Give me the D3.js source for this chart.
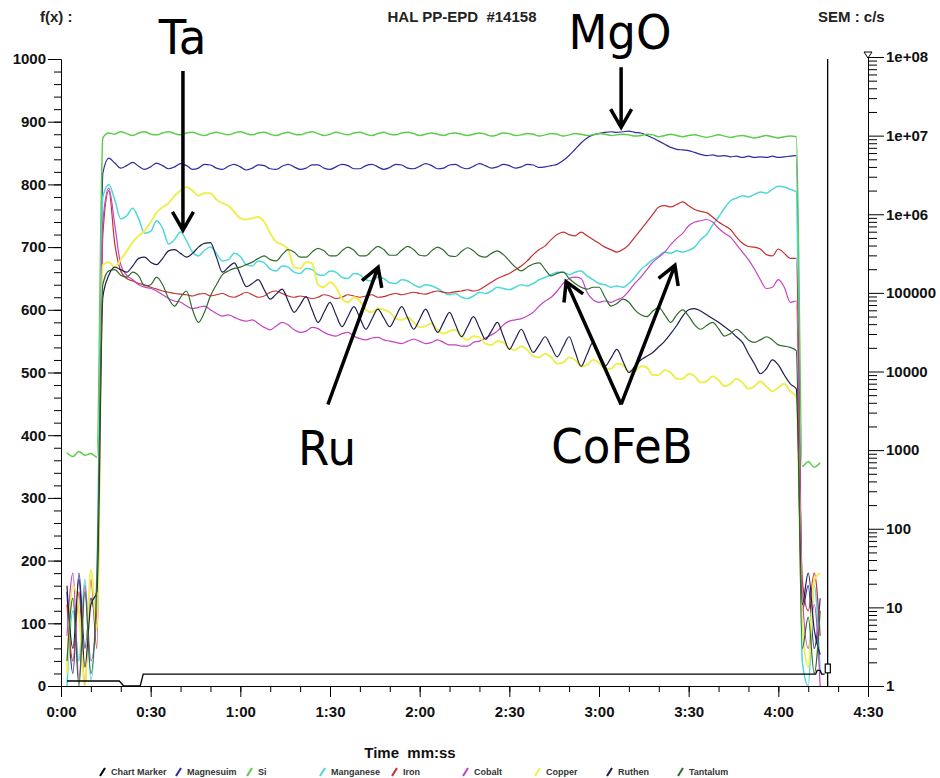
<!DOCTYPE html>
<html>
<head>
<meta charset="utf-8">
<script src="https://cdn.jsdelivr.net/npm/d3@7"></script>
<style>
  html, body { margin: 0; padding: 0; background: #fff; }
  svg { display: block; font-family: "Liberation Sans", Arial, sans-serif; }
</style>
</head>
<body>
<svg id="chart" width="940" height="778"></svg>
<script>
// ---------------------------------------------------------------------------
// Depth profile HAL PP-EPD #14158 : intensity vs sputter time (mm:ss)
// ---------------------------------------------------------------------------

// Sample clock in seconds, shared by every element trace
const TIME = d3.range(2, 256, 2);

const SI = [
  372, 366, 374, 368, 371, 365,
  874, 882, 880, 884, 881, 878, 882, 884, 880, 879,
  882, 884, 881, 879, 882, 883, 880, 878, 881, 883,
  881, 879, 882, 884, 881, 879, 882, 883, 880, 878,
  881, 883, 880, 879, 882, 884, 881, 878, 880, 883,
  881, 879, 882, 883, 880, 878, 881, 883, 880, 879,
  882, 883, 881, 878, 880, 882, 880, 878, 881, 882,
  880, 878, 880, 882, 880, 877, 879, 882, 881, 878,
  879, 881, 880, 877, 879, 881, 880, 877, 879, 881,
  880, 878, 879, 881, 880, 878, 879, 880, 879, 877,
  878, 880, 879, 876, 878, 880, 878, 876, 878, 879,
  877, 875, 877, 879, 877, 875, 877, 878, 876, 874,
  876, 878, 876, 874, 876, 877, 876,
  350, 358, 349, 356
];

const MAGNESIUM = [
  150, 20, 180, 60, 140, 100,
  818, 842, 834, 826, 830, 835, 829, 824, 828, 834,
  830, 825, 828, 833, 830, 824, 826, 832, 831, 826,
  824, 829, 832, 828, 823, 826, 831, 830, 825, 824,
  829, 832, 828, 824, 826, 831, 831, 826, 824, 828,
  832, 830, 825, 825, 830, 832, 828, 824, 827, 832,
  831, 826, 825, 829, 833, 830, 825, 826, 831, 832,
  827, 825, 829, 833, 830, 826, 828, 832, 830, 826,
  828, 832, 831, 827, 828, 830, 832, 838, 846, 856,
  866, 874, 879, 881, 883, 884, 883, 884, 885, 883,
  882, 878, 874, 869, 864, 859, 856, 855, 854, 851,
  848, 846, 847, 845, 846, 844, 845, 843, 845, 843,
  844, 843, 845, 843, 844, 845, 846,
  120, 160, 60, 140
];

const MANGANESE = [
  0, 120, 40, 170, 10, 180,
  780, 800, 775, 745, 750, 762, 745, 722, 725, 742,
  730, 705, 712, 724, 710, 692, 686, 695, 700, 690,
  678, 680, 690, 685, 672, 670, 678, 675, 665, 662,
  670, 668, 660, 658, 666, 664, 656, 655, 662, 660,
  652, 650, 658, 656, 648, 646, 652, 650, 643, 642,
  648, 646, 640, 636, 640, 638, 634, 628, 624, 626,
  620, 618, 622, 628, 626, 630, 636, 634, 632, 636,
  640, 638, 642, 648, 652, 656, 660, 660, 656, 660,
  662, 654, 648, 642, 640, 636, 638, 636, 642, 652,
  664, 672, 680, 686, 692, 690, 694, 692, 695, 700,
  712, 720, 735, 748, 762, 774, 778, 782, 780, 784,
  788, 786, 792, 797, 796, 792, 788,
  40, 0, 160, 20
];

const IRON = [
  130, 40, 150, 0, 170, 60,
  720, 790, 705, 662, 650, 646, 642, 640, 636, 633,
  630, 628, 626, 625, 624, 622, 625, 626, 622, 624,
  626, 622, 620, 624, 628, 624, 620, 622, 628, 630,
  626, 622, 620, 622, 620, 618, 620, 624, 622, 618,
  620, 624, 622, 620, 622, 624, 620, 621, 624, 626,
  624, 626, 628, 626, 625, 628, 630, 628, 627, 629,
  630, 632, 630, 632, 638, 644, 650, 654, 658, 664,
  670, 678, 688, 696, 702, 712, 720, 724, 720, 718,
  724, 718, 712, 706, 700, 696, 692, 696, 704, 716,
  728, 740, 752, 764, 766, 764, 768, 772, 766, 760,
  757, 755, 748, 740, 734, 728, 716, 706, 701, 700,
  697, 688, 686, 697, 690, 682, 682,
  170, 120, 180, 80
];

const COBALT = [
  80, 180, 10, 160, 40, 120,
  740, 794, 735, 672, 655, 648, 640, 636, 634, 630,
  624, 618, 614, 612, 606, 602, 604, 606, 600, 594,
  590, 592, 588, 584, 582, 584, 578, 572, 568, 574,
  580, 576, 568, 564, 566, 572, 570, 564, 560, 558,
  562, 564, 558, 554, 552, 555, 556, 552, 550, 548,
  546, 550, 553, 550, 546, 548, 552, 548, 544, 544,
  542, 542, 548, 550, 555, 560, 566, 576, 582, 584,
  586, 590, 596, 606, 614, 620, 630, 642, 650, 652,
  650, 628, 616, 612, 614, 612, 616, 620, 630, 642,
  652, 664, 676, 684, 692, 704, 714, 722, 734, 740,
  742, 744, 740, 730, 722, 716, 704, 692, 680, 665,
  648, 634, 636, 648, 636, 612, 614,
  150, 60, 130, 0
];

const COPPER = [
  20, 160, 120, 0, 185, 90,
  672, 676, 668, 680, 694, 708, 718, 726, 740, 755,
  764, 770, 782, 790, 796, 790, 782, 786, 786, 776,
  770, 766, 756, 746, 744, 746, 748, 740, 722, 708,
  704, 696, 668, 666, 676, 674, 640, 636, 644, 636,
  618, 612, 620, 614, 600, 596, 602, 600, 596, 586,
  584, 588, 580, 572, 574, 578, 568, 562, 566, 568,
  558, 552, 558, 556, 546, 544, 550, 548, 538, 536,
  542, 536, 526, 524, 530, 524, 514, 516, 524, 520,
  510, 512, 520, 516, 506, 506, 514, 512, 502, 502,
  510, 508, 496, 496, 504, 500, 490, 490, 498, 494,
  484, 486, 494, 488, 478, 482, 490, 484, 474, 478,
  486, 478, 470, 476, 482, 470, 462,
  100, 30, 170, 180
];

const RUTHEN = [
  160, 60, 170, 30, 130, 150,
  620, 655, 668, 664, 660, 670, 682, 684, 676, 672,
  682, 694, 696, 690, 684, 690, 700, 706, 707, 684,
  660, 668, 675, 656, 637, 642, 648, 632, 617, 625,
  633, 614, 596, 608, 621, 600, 580, 596, 612, 592,
  573, 589, 605, 587, 569, 585, 601, 587, 573, 589,
  605, 587, 569, 585, 601, 582, 564, 580, 596, 576,
  557, 573, 589, 571, 553, 566, 580, 558, 537, 553,
  569, 550, 532, 544, 557, 541, 525, 541, 557, 533,
  510, 529, 548, 529, 510, 523, 537, 518, 500, 510,
  520, 526, 532, 541, 550, 562, 575, 590, 600, 602,
  598, 592, 586, 580, 573, 566, 557, 548, 530, 514,
  498, 506, 520, 512, 496, 482, 474,
  130, 180, 90, 50
];

const TANTALUM = [
  40, 140, 0, 150, 20, 170,
  640, 662, 664, 655, 652, 660, 654, 638, 640, 652,
  640, 618, 606, 620, 630, 600, 580, 596, 622, 640,
  656, 662, 666, 668, 672, 676, 682, 686, 680, 678,
  688, 696, 692, 684, 684, 692, 698, 694, 686, 686,
  694, 700, 695, 686, 686, 694, 701, 696, 687, 687,
  695, 701, 696, 687, 686, 694, 700, 695, 686, 685,
  693, 699, 694, 686, 684, 690, 694, 688, 678, 668,
  662, 668, 673, 675, 664, 654, 658, 660, 650, 642,
  636, 633, 636, 636, 620, 606, 610, 617, 612, 600,
  592, 589, 598, 604, 592, 580, 592, 600, 590, 576,
  569, 575, 580, 570, 558, 562, 569, 562, 552, 548,
  552, 557, 552, 544, 542, 540, 535,
  60, 110, 20, 120
];

// Chart marker trace (time s, value) and its cursor
const MARKER_T = [2, 19.5, 21, 26.5, 27.5, 252.5, 253, 254, 254.5, 255.5];
const MARKER_V = [8, 8, 0, 0, 19, 19, 25, 25, 19, 19];
const MARKER_CURSOR_T = 256.5;
const MARKER_BOX = { t0: 255.7, t1: 257.4, v0: 21, v1: 35 };

// Axis ticks
const Y_MAJOR = d3.range(0, 1001, 100);
const Y_MINOR = d3.range(0, 1001, 20);
const X_MAJOR = d3.range(0, 271, 30);
const X_MINOR = d3.range(0, 271, 10);
const SEM_MAJOR = [1, 10, 100, 1000, 10000, 100000, 1e6, 1e7, 1e8];
const SEM_LABELS = ["1", "10", "100", "1000", "10000", "100000", "1e+06", "1e+07", "1e+08"];

// Layer annotations (time s, value)
const LABELS = [
  { text: "Ta",    t: 40.7,  v: 1008 },
  { text: "MgO",   t: 187.0, v: 1016 },
  { text: "Ru",    t: 89.0,  v: 353 },
  { text: "CoFeB", t: 187.7, v: 356 }
];
const ARROWS = [
  { from: [40.8, 981],  to: [40.8, 727] },
  { from: [187.4, 987], to: [187.4, 891] },
  { from: [89.3, 449],  to: [106.1, 668] },
  { from: [187.4, 449], to: [169.0, 645] },
  { from: [187.4, 449], to: [205.4, 671] }
];

// Trace styling, in legend order
const TRACES = [
  { name: "Magnesuim", values: MAGNESIUM, color: "#2d2d9e", width: 1.2 },
  { name: "Si",        values: SI,        color: "#5ccc4a", width: 1.5 },
  { name: "Manganese", values: MANGANESE, color: "#4fd8d8", width: 1.5 },
  { name: "Iron",      values: IRON,      color: "#c43030", width: 1.2 },
  { name: "Cobalt",    values: COBALT,    color: "#c444c4", width: 1.2 },
  { name: "Copper",    values: COPPER,    color: "#eeee55", width: 2.0 },
  { name: "Ruthen",    values: RUTHEN,    color: "#1e1e50", width: 1.2 },
  { name: "Tantalum",  values: TANTALUM,  color: "#2e6b2e", width: 1.2 }
];

const LEGEND = [
  { name: "Chart Marker", color: "#000000", x: 100 },
  { name: "Magnesuim",    color: "#2d2d9e", x: 176 },
  { name: "Si",           color: "#5ccc4a", x: 247 },
  { name: "Manganese",    color: "#4fd8d8", x: 320 },
  { name: "Iron",         color: "#c43030", x: 392 },
  { name: "Cobalt",       color: "#c444c4", x: 463 },
  { name: "Copper",       color: "#eeee55", x: 535 },
  { name: "Ruthen",       color: "#1e1e50", x: 607 },
  { name: "Tantalum",     color: "#2e6b2e", x: 678 }
];

// ---------------------------------------------------------------------------
const svg = d3.select("#chart");
const FONT = "'Liberation Sans', Arial, sans-serif";

const x = d3.scaleLinear().domain([0, 270]).range([61, 868]);
const y = d3.scaleLinear().domain([0, 1000]).range([686, 59]);
const ySem = d3.scaleLog().domain([1, 1e8]).range([686, 57]);

const fmtTime = s => `${Math.floor(s / 60)}:${String(s % 60).padStart(2, "0")}`;

// Traces
const line = d3.line()
  .x((d, i) => x(TIME[i]))
  .y(d => y(d))
  .curve(d3.curveMonotoneX);

const traceG = svg.append("g");
TRACES.forEach(tr => {
  traceG.append("path")
    .datum(tr.values)
    .attr("fill", "none")
    .attr("stroke", tr.color)
    .attr("stroke-width", tr.width)
    .attr("stroke-linejoin", "round")
    .attr("d", line);
});

// Chart marker
const markerLine = d3.line().x(d => x(d[0])).y(d => y(d[1]));
svg.append("path")
  .datum(MARKER_T.map((t, i) => [t, MARKER_V[i]]))
  .attr("fill", "none").attr("stroke", "#000").attr("stroke-width", 1.3)
  .attr("d", markerLine);
svg.append("line")
  .attr("x1", x(MARKER_CURSOR_T)).attr("x2", x(MARKER_CURSOR_T))
  .attr("y1", y(0)).attr("y2", y(1000))
  .attr("stroke", "#000").attr("stroke-width", 1.3);
svg.append("rect")
  .attr("x", x(MARKER_BOX.t0)).attr("y", y(MARKER_BOX.v1))
  .attr("width", x(MARKER_BOX.t1) - x(MARKER_BOX.t0))
  .attr("height", y(MARKER_BOX.v0) - y(MARKER_BOX.v1))
  .attr("fill", "#fff").attr("stroke", "#000").attr("stroke-width", 1.2);

// Axes
function styleAxis(g, size) {
  g.attr("font-family", FONT).attr("font-size", size).attr("font-weight", "bold");
  g.selectAll("text").attr("fill", "#111");
}

svg.append("g").attr("transform", `translate(${x(0)},0)`)
  .call(d3.axisLeft(y).tickValues(Y_MINOR).tickSize(7).tickSizeOuter(0).tickFormat(""));
svg.append("g").attr("transform", `translate(${x(0)},0)`)
  .call(d3.axisLeft(y).tickValues(Y_MAJOR).tickSize(13).tickSizeOuter(0).tickPadding(2)
    .tickFormat(d3.format("d")))
  .call(g => styleAxis(g, 15));

svg.append("g").attr("transform", `translate(0,${y(0)})`)
  .call(d3.axisBottom(x).tickValues(X_MINOR).tickSize(6).tickSizeOuter(0).tickFormat(""));
svg.append("g").attr("transform", `translate(0,${y(0)})`)
  .call(d3.axisBottom(x).tickValues(X_MAJOR).tickSize(11).tickSizeOuter(0).tickPadding(9).tickFormat(fmtTime))
  .call(g => styleAxis(g, 15));

const semMinor = [];
SEM_MAJOR.slice(0, -1).forEach(d => { for (let m = 2; m <= 9; m++) semMinor.push(d * m); });
svg.append("g").attr("transform", `translate(${x(270)},0)`)
  .call(d3.axisRight(ySem).tickValues(semMinor).tickSize(9).tickSizeOuter(0).tickFormat(""));
svg.append("g").attr("transform", `translate(${x(270)},0)`)
  .call(d3.axisRight(ySem).tickValues(SEM_MAJOR).tickSize(16).tickSizeOuter(0).tickPadding(2)
    .tickFormat((d, i) => SEM_LABELS[i]))
  .call(g => styleAxis(g, 15));

// small cursor triangle at the top of the SEM axis
svg.append("path")
  .attr("d", `M${x(270) - 4},${ySem(1e8) - 5}L${x(270) + 4},${ySem(1e8) - 5}L${x(270)},${ySem(1e8) + 1}Z`)
  .attr("fill", "#fff").attr("stroke", "#000").attr("stroke-width", 1);

// Header texts
svg.append("text").attr("x", 40).attr("y", 22).text("f(x) :")
  .attr("font-family", FONT).attr("font-size", 15).attr("font-weight", "bold").attr("fill", "#222");
svg.append("text").attr("x", 462).attr("y", 22).attr("text-anchor", "middle")
  .style("white-space", "pre").text("HAL PP-EPD  #14158")
  .attr("font-family", FONT).attr("font-size", 15).attr("font-weight", "bold").attr("fill", "#222");
svg.append("text").attr("x", 818).attr("y", 22).text("SEM : c/s")
  .attr("font-family", FONT).attr("font-size", 15).attr("font-weight", "bold").attr("fill", "#222");

// Axis title
svg.append("text").attr("x", 410).attr("y", 758).attr("text-anchor", "middle")
  .style("white-space", "pre").text("Time  mm:ss")
  .attr("font-family", FONT).attr("font-size", 15).attr("font-weight", "bold").attr("fill", "#111");

// Legend
const lg = svg.append("g");
LEGEND.forEach(it => {
  lg.append("line")
    .attr("x1", it.x).attr("y1", 776).attr("x2", it.x + 5).attr("y2", 768)
    .attr("stroke", it.color).attr("stroke-width", 2);
  lg.append("text").attr("x", it.x + 11).attr("y", 775).text(it.name)
    .attr("font-family", FONT).attr("font-size", 9).attr("font-weight", "bold").attr("fill", "#333");
});

// Layer labels and arrows
LABELS.forEach(l => {
  svg.append("text")
    .attr("transform", `translate(${x(l.t)},${y(l.v)}) scale(0.94,1)`)
    .attr("text-anchor", "middle")
    .attr("font-family", "'DejaVu Sans', Verdana, sans-serif")
    .attr("font-size", 48)
    .attr("fill", "#000")
    .text(l.text);
});

const ARM = 21, SPREAD = Math.PI / 180 * 30;
ARROWS.forEach(a => {
  const x1 = x(a.from[0]), y1 = y(a.from[1]);
  const x2 = x(a.to[0]),   y2 = y(a.to[1]);
  const ang = Math.atan2(y1 - y2, x1 - x2);
  const p1 = [x2 + ARM * Math.cos(ang - SPREAD), y2 + ARM * Math.sin(ang - SPREAD)];
  const p2 = [x2 + ARM * Math.cos(ang + SPREAD), y2 + ARM * Math.sin(ang + SPREAD)];
  svg.append("path")
    .attr("d", `M${x1},${y1}L${x2},${y2}M${p1[0]},${p1[1]}L${x2},${y2}L${p2[0]},${p2[1]}`)
    .attr("fill", "none").attr("stroke", "#000").attr("stroke-width", 3.5)
    .attr("stroke-linecap", "butt").attr("stroke-linejoin", "miter");
});
</script>
</body>
</html>
